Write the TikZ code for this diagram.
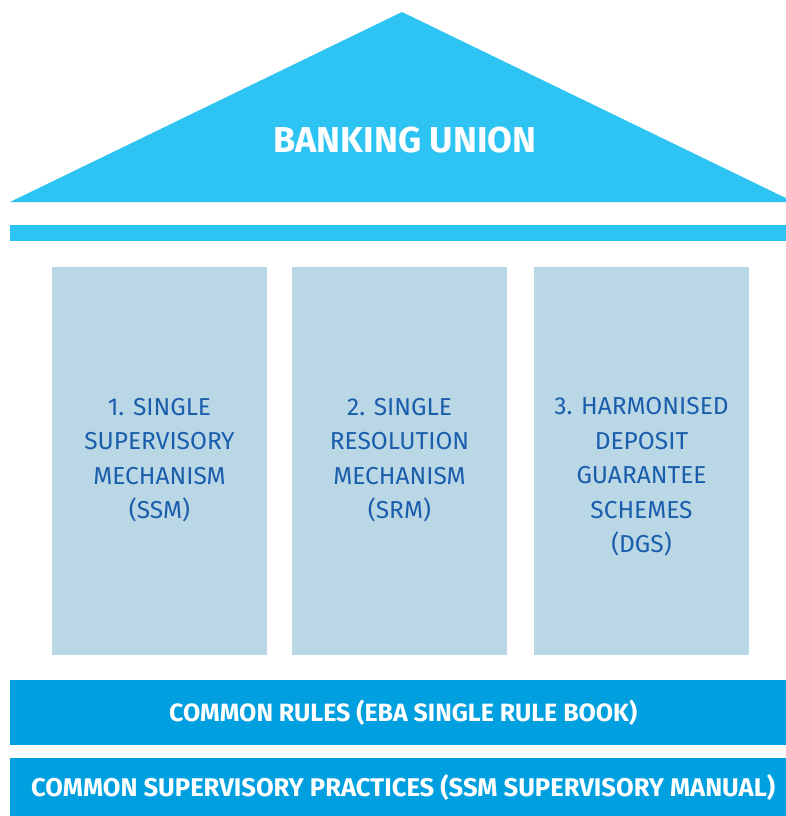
\documentclass[tikz,border=0pt]{standalone}
\usepackage{fontspec}
\setmainfont{Fira Sans}
\definecolor{roof}{HTML}{2DC3F2}
\definecolor{pillar}{HTML}{B9D7E4}
\definecolor{base}{HTML}{00A0E0}
\definecolor{ptext}{HTML}{1A5DAD}
\tikzset{
  pillarbox/.style={fill=pillar, draw=none, minimum width=215pt, minimum height=388pt, inner sep=0pt},
  pillartext/.style={text=ptext, align=center, font=\fontsize{24.5}{34.5}\selectfont},
  basebar/.style={fill=base, draw=none, minimum width=776pt, inner sep=0pt},
  basetext/.style={text=white, font=\fontsize{25}{28}\selectfont\bfseries},
}
\begin{document}
\begin{tikzpicture}[x=1pt,y=-1pt]
\useasboundingbox (0,0) rectangle (786,816);
\fill[roof] (10,202) -- (402,12) -- (794,202) -- cycle;
\node[text=white, font=\fontsize{36}{40}\selectfont\bfseries] (title) at (405,140) {BANKING UNION};
\fill[roof] (10,225) rectangle (786,241);
\node[pillarbox, anchor=north west] (p1) at (52,267) {};
\node[pillarbox, anchor=north west] (p2) at (292,267) {};
\node[pillarbox, anchor=north west] (p3) at (534,267) {};
\node[pillartext] (t1) at (159.5,460) {1. SINGLE\\SUPERVISORY\\MECHANISM\\(SSM)};
\node[pillartext] (t2) at (399.5,460) {2. SINGLE\\RESOLUTION\\MECHANISM\\(SRM)};
\node[pillartext] (t3) at (641.5,477) {3. HARMONISED\\DEPOSIT\\GUARANTEE\\SCHEMES\\(DGS)};
\node[basebar, minimum height=65pt, anchor=north west] (b1) at (10,680) {};
\node[basetext] (bt1) at ([xshift=5pt]b1.center) {COMMON RULES (EBA SINGLE RULE BOOK)};
\node[basebar, minimum height=58pt, anchor=north west] (b2) at (10,758) {};
\node[basetext, font=\fontsize{25.6}{28}\selectfont\bfseries] (bt2) at ([xshift=5pt]b2.center) {COMMON SUPERVISORY PRACTICES (SSM SUPERVISORY MANUAL)};
\end{tikzpicture}
\end{document}
